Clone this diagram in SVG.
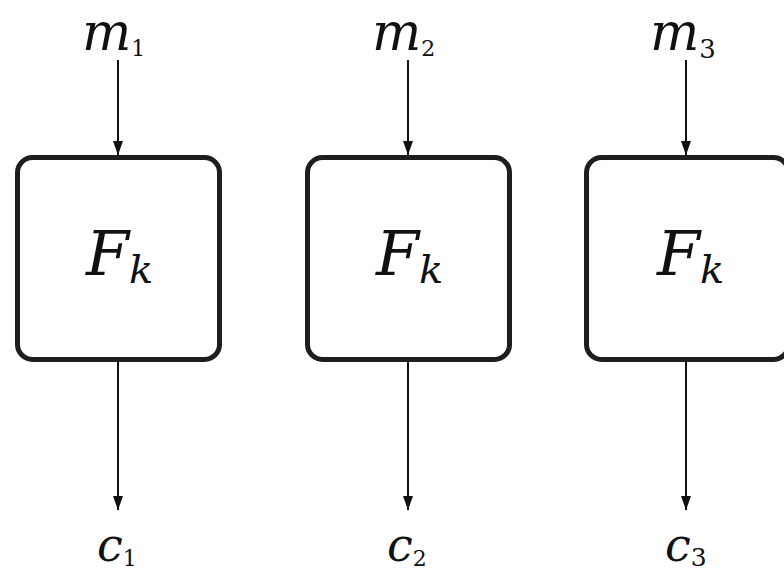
<svg xmlns="http://www.w3.org/2000/svg" width="784" height="574" viewBox="0 0 784 574">
<defs>
<style>
.box{fill:#fff;stroke:#1e1e1e;stroke-width:5}
.ln{stroke:#111;stroke-width:2;fill:none}
text{font-family:'DejaVu Serif',serif;font-style:italic;fill:#111}
.m{font-size:52px}
.f{font-size:62px}
.c{font-size:46px}
.sub{font-style:normal;font-size:22px}
.subk{font-size:40px}
</style>
<marker id="ah" viewBox="0 0 14 10" refX="14" refY="5" markerWidth="14" markerHeight="10" markerUnits="userSpaceOnUse" orient="auto">
<path d="M0,0 L14,5 L0,10 Z" fill="#111"/>
</marker>
</defs>
<rect width="784" height="574" fill="#fff"/>
<g id="connectors">
<line class="ln" x1="118" y1="60" x2="118" y2="155" marker-end="url(#ah)"/>
<line class="ln" x1="408" y1="60" x2="408" y2="155" marker-end="url(#ah)"/>
<line class="ln" x1="686" y1="60" x2="686" y2="155" marker-end="url(#ah)"/>
<line class="ln" x1="118" y1="362" x2="118" y2="510" marker-end="url(#ah)"/>
<line class="ln" x1="408" y1="362" x2="408" y2="510" marker-end="url(#ah)"/>
<line class="ln" x1="686" y1="362" x2="686" y2="510" marker-end="url(#ah)"/>
</g>
<g id="node-f1">
<rect class="box" x="17.5" y="157.5" width="202" height="202" rx="15"/>
<text class="f" x="86" y="275">F<tspan class="subk" dy="8">k</tspan></text>
</g>
<g id="node-f2">
<rect class="box" x="307.5" y="157.5" width="202" height="202" rx="15"/>
<text class="f" x="376" y="275">F<tspan class="subk" dy="8">k</tspan></text>
</g>
<g id="node-f3">
<rect class="box" x="586.5" y="157.5" width="202" height="202" rx="15"/>
<text class="f" x="657" y="275">F<tspan class="subk" dy="8">k</tspan></text>
</g>
<g id="node-m1"><text class="m" x="82" y="50">m<tspan class="sub" dy="6">1</tspan></text></g>
<g id="node-m2"><text class="m" x="372" y="50">m<tspan class="sub" dy="6">2</tspan></text></g>
<g id="node-m3"><text class="m" x="650" y="50">m<tspan class="sub" dy="8" style="font-size:26px">3</tspan></text></g>
<g id="node-c1"><text class="c" x="97" y="561">c<tspan class="sub" dy="5">1</tspan></text></g>
<g id="node-c2"><text class="c" x="387" y="561">c<tspan class="sub" dy="5">2</tspan></text></g>
<g id="node-c3"><text class="c" x="665" y="561">c<tspan class="sub" dy="5" style="font-size:25px">3</tspan></text></g>
</svg>
